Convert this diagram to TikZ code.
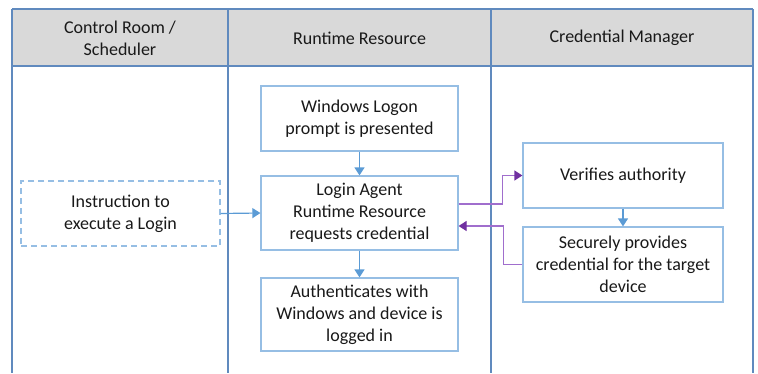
\documentclass[tikz,border=0pt]{standalone}
\usepackage{fontspec}
\setmainfont{Carlito}
\usetikzlibrary{arrows.meta}
\definecolor{tblline}{RGB}{96,138,190}
\definecolor{hdrfill}{RGB}{217,217,217}
\definecolor{boxline}{RGB}{150,190,228}
\definecolor{arrblue}{RGB}{91,155,213}
\definecolor{purpline}{RGB}{160,110,205}
\definecolor{purphead}{RGB}{112,48,160}
\definecolor{txt}{RGB}{25,25,25}
\tikzset{
  hdr/.style={font=\fontsize{18}{22}\selectfont, text=txt, align=center},
  stepbox/.style={draw=boxline, line width=1.2pt, fill=white, font=\fontsize{18}{22}\selectfont, text=txt, align=center, inner sep=0pt},
  dashbox/.style={stepbox, dashed, dash pattern=on 6pt off 4pt},
  bluearr/.style={draw=arrblue, line width=1.2pt, -{Triangle[length=8pt,width=10pt]}},
  purparr/.style={draw=purpline, line width=1.2pt, -{Triangle[length=8pt,width=10pt,color=purphead]}},
}
\begin{document}
\begin{tikzpicture}[x=1pt,y=1pt]
\useasboundingbox (0,0) rectangle (758,-373);
% table
\fill[hdrfill] (12,-9) rectangle (753,-66);
\draw[tblline, line width=1.6pt] (12,-9) -- (753,-9);
\draw[tblline, line width=1.6pt] (12,-66) -- (753,-66);
\foreach \xx in {12,228,491,753} \draw[tblline, line width=1.6pt] (\xx,-9) -- (\xx,-373);
\node[hdr] (h1) at (120,-38) {Control Room /\\Scheduler};
\node[hdr] (h2) at (359.5,-38) {Runtime Resource};
\node[hdr] (h3) at (622,-38) {Credential Manager};
% boxes
\node[stepbox, minimum width=197pt, minimum height=65pt] (win) at (359.5,-118.5) {Windows Logon\\prompt is presented};
\node[stepbox, minimum width=197pt, minimum height=74pt] (agent) at (359.5,-213) {Login Agent\\Runtime Resource\\requests credential};
\node[stepbox, minimum width=197pt, minimum height=73pt] (auth) at (359.5,-314.5) {Authenticates with\\Windows and device is\\logged in};
\node[dashbox, minimum width=199pt, minimum height=65pt] (instr) at (120.5,-213.5) {Instruction to\\execute a Login};
\node[stepbox, minimum width=200pt, minimum height=65pt] (verify) at (623,-175.5) {Verifies authority};
\node[stepbox, minimum width=200pt, minimum height=75pt] (secure) at (623,-264.5) {Securely provides\\credential for the target\\device};
% connectors
\draw[bluearr] (instr.east) -- (agent.west);
\draw[bluearr] (win.south) -- (agent.north);
\draw[bluearr] (agent.south) -- (auth.north);
\draw[bluearr] (verify.south) -- (secure.north);
\draw[purparr] ([yshift=9pt]agent.east) -- ++(44,0) |- (verify.west);
\draw[purparr] (secure.west) -- ++(-19,0) |- ([yshift=-13pt]agent.east);
\end{tikzpicture}
\end{document}
